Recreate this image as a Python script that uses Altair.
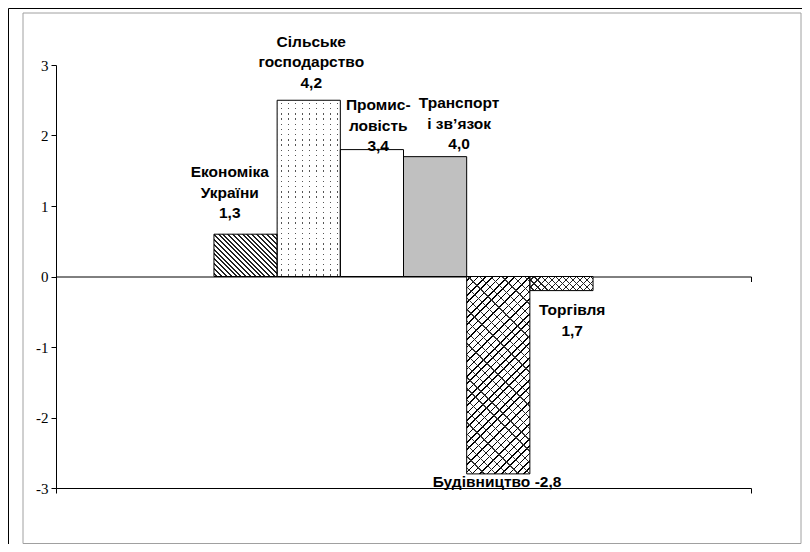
import math
import altair as alt
import pandas as pd

# ---- data ----
categories = ["Економіка України", "Сільське господарство", "Промисловість",
              "Транспорт і зв’язок", "Будівництво", "Торгівля"]
values = [0.6, 2.5, 1.8, 1.7, -2.8, -0.2]

label_texts = ["Економіка\nУкраїни\n1,3", "Сільське\nгосподарство\n4,2",
               "Промис-\nловість\n3,4", "Транспорт\nі зв’язок\n4,0",
               "Будівництво -2,8", "Торгівля\n1,7"]
label_x = [0.25, 1.54, 2.6, 3.88, 4.48, 5.67]
label_y = [1.48, 3.33, 2.43, 2.46, -2.91, -0.48]

y_ticks = [-3, -2, -1, 0, 1, 2, 3]

# ---- layout ----
PLOT_W, PLOT_H = 695, 423
X_DOMAIN = [-2.5, 8.5]
Y_DOMAIN = [-3, 3]

df = pd.DataFrame({"cat": categories, "value": values})
df["i"] = list(range(len(categories)))
df["i2"] = df["i"] + 1

lab = pd.DataFrame({"text": label_texts, "lx": label_x, "ly": label_y})

xs = alt.Scale(domain=X_DOMAIN, nice=False, zero=False)
ys = alt.Scale(domain=Y_DOMAIN, nice=False, zero=False)

y_axis = alt.Axis(values=y_ticks, tickSize=5, labelPadding=3, grid=False, title=None,
                  labelExpr="'' + datum.value", domainColor="black", tickColor="black",
                  labelColor="black", labelFont="Liberation Serif", labelFontSize=15)


def x_axis(offset=0):
    return alt.Axis(orient="bottom", values=[X_DOMAIN[0], X_DOMAIN[1]], tickSize=5,
                    labels=False, grid=False, title=None, domainColor="black",
                    tickColor="black", offset=offset)


BAND_W = PLOT_W / (X_DOMAIN[1] - X_DOMAIN[0])
PX_PER_UNIT = PLOT_H / (Y_DOMAIN[1] - Y_DOMAIN[0])


def stripes(kind, idx, period, lw, line_color, bg):
    W = BAND_W
    H = abs(values[idx]) * PX_PER_UNIT
    r = H / W
    k = (1 + r) / (1 + r * r)
    if kind == "back":
        c = dict(x1=0, y1=1, x2=k, y2=1 - k * r)
        span = (W + H) / math.sqrt(2)
    elif kind == "fwd":
        c = dict(x1=0, y1=0, x2=k, y2=k * r)
        span = (W + H) / math.sqrt(2)
    elif kind == "vert":
        c = dict(x1=0, y1=0, x2=1, y2=0)
        span = W
    else:
        c = dict(x1=0, y1=0, x2=0, y2=1)
        span = H
    stops = [(0.0, bg)]
    s = period / 2 / span
    while s < 1:
        e = min(s + lw / span, 1.0)
        stops += [(s, bg), (s, line_color), (e, line_color), (e, bg)]
        s += period / span
    stops.append((1.0, bg))
    return alt.LinearGradient(
        gradient="linear",
        stops=[alt.GradientStop(offset=round(o, 5), color=col) for o, col in stops],
        **{kk: round(v, 5) for kk, v in c.items()})


CLEAR = "rgba(255,255,255,0)"


def bar(idx, fill, xa=None):
    return alt.Chart(df).transform_filter(alt.datum.i == idx).mark_bar(
        fill=fill, strokeWidth=0).encode(
        x=alt.X("i:Q", scale=xs, axis=xa),
        x2="i2:Q",
        y=alt.Y("value:Q", scale=ys, axis=y_axis),
        y2=alt.datum(0))


layers = []
# Економіка: dense back-diagonal hatch
layers.append(bar(0, stripes("back", 0, 3.4, 1.4, "#222222", "white")))
# Сільське: sparse dots
layers.append(bar(1, "#555555"))
layers.append(bar(1, stripes("vert", 1, 7, 1.3, CLEAR, "white")))
layers.append(bar(1, stripes("horiz", 1, 5.2, 1.3, CLEAR, "white")))
# Промисловість: white
layers.append(bar(2, "white", xa=x_axis(-PLOT_H / 2)))
# Транспорт: grey
layers.append(bar(3, "#c0c0c0"))
# Будівництво: brick-like crosshatch
layers.append(bar(4, "white"))
layers.append(bar(4, stripes("fwd", 4, 5.2, 1.1, "black", CLEAR)))
layers.append(bar(4, stripes("back", 4, 8, 1.0, "#333333", CLEAR)))
# Торгівля: wave-like fine crosshatch
layers.append(bar(5, "white"))
layers.append(bar(5, stripes("fwd", 5, 5, 0.9, "#222222", CLEAR)))
layers.append(bar(5, stripes("back", 5, 5, 0.9, "#222222", CLEAR)))

# outlines on top
outline = alt.Chart(df).mark_bar(fillOpacity=0, stroke="black", strokeWidth=1).encode(
    x=alt.X("i:Q", scale=xs, axis=x_axis(0)),
    x2="i2:Q",
    y=alt.Y("value:Q", scale=ys, axis=y_axis),
    y2=alt.datum(0))
layers.append(outline)

labels = alt.Chart(lab).mark_text(
    font="Liberation Sans", fontWeight="bold", fontSize=15.5, lineBreak="\n",
    lineHeight=20.5, baseline="middle", align="center", color="black").encode(
    x=alt.X("lx:Q", scale=xs, axis=None),
    y=alt.Y("ly:Q", scale=ys, axis=y_axis),
    text="text:N")
layers.append(labels)

one = pd.DataFrame({"a": [0]})
grey_frame = alt.Chart(one).mark_rect(fillOpacity=0, stroke="#a0a0a0", strokeWidth=1).encode(
    x=alt.value(-33), x2=alt.value(745), y=alt.value(-52), y2=alt.value(478.5))
black_frame = alt.Chart(one).mark_rect(fillOpacity=0, stroke="black", strokeWidth=1).encode(
    x=alt.value(-47.5), x2=alt.value(800), y=alt.value(-56.5), y2=alt.value(700))
layers = [black_frame, grey_frame] + layers

chart = alt.layer(*layers).resolve_axis(x="independent").properties(
    width=PLOT_W, height=PLOT_H,
    autosize=alt.AutoSizeParams(type="none"),
    padding={"left": 48, "top": 57, "right": 51, "bottom": 56},
    background="white",
).configure_view(stroke=None)

chart.save("out.html", embed_options={"renderer": "svg", "actions": False})
